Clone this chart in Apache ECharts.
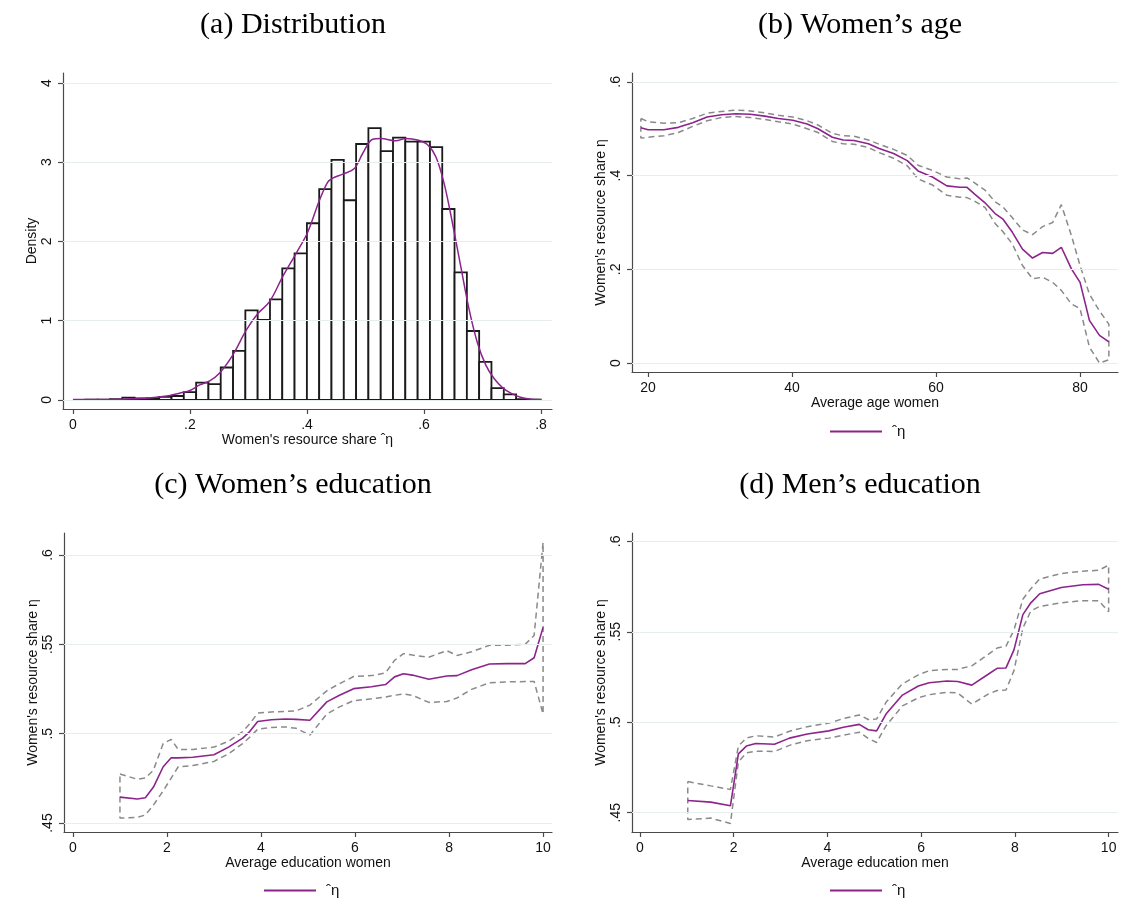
<!DOCTYPE html>
<html>
<head>
<meta charset="utf-8">
<script src="https://cdn.jsdelivr.net/npm/echarts@6/dist/echarts.min.js"></script>
<style>
html,body{margin:0;padding:0;background:#fff;}
#chart{width:1122px;height:909px;}
</style>
</head>
<body>
<div id="chart"></div>
<script>
// ---------- (a) Distribution ----------
const binWidth = 0.02103;
const binCenter = [0.0318,0.0528,0.0739,0.0949,0.1159,0.1370,0.1580,0.1790,0.2000,0.2211,0.2421,0.2631,0.2842,0.3052,0.3262,0.3473,0.3683,0.3893,0.4104,0.4314,0.4524,0.4735,0.4945,0.5155,0.5366,0.5576,0.5786,0.5997,0.6207,0.6417,0.6628,0.6838,0.7048,0.7259,0.7469,0.7679,0.7890];
const binHeight = [0.004,0.004,0.01,0.03,0.02,0.02,0.04,0.05,0.10,0.22,0.20,0.41,0.62,1.13,1.01,1.27,1.66,1.85,2.23,2.66,3.03,2.52,3.23,3.43,3.14,3.31,3.26,3.26,3.19,2.41,1.61,0.87,0.48,0.15,0.07,0.01,0.005];
const kdeX = [0,0.06,0.10,0.13,0.16,0.185,0.2,0.2166,0.2337,0.2507,0.2734,0.2962,0.3161,0.336,0.3587,0.3815,0.4014,0.4213,0.4355,0.4441,0.4611,0.481,0.4952,0.5122,0.5265,0.5521,0.5692,0.589,0.6061,0.6203,0.6345,0.6487,0.663,0.6772,0.6914,0.7057,0.7198,0.735,0.75,0.765,0.78,0.8];
const kdeY = [0.005,0.006,0.015,0.025,0.05,0.09,0.12,0.19,0.24,0.34,0.57,0.88,1.09,1.24,1.56,1.85,2.12,2.52,2.75,2.80,2.85,2.92,3.11,3.29,3.30,3.27,3.30,3.28,3.22,3.07,2.73,2.23,1.68,1.14,0.72,0.44,0.27,0.15,0.08,0.035,0.012,0.004];
const aXTicks = [0,0.2,0.4,0.6,0.8];
const aYTicks = [0,1,2,3,4];

// ---------- (b) Women's age ----------
const ageX = [19,20,22.2,24.2,26.2,28.2,30.2,32.2,34.2,36.2,38.1,40.1,42.1,43.6,45.6,47.1,48.6,50.6,52.1,54.1,56.0,57.5,59.5,61.5,63.3,64.3,65.4,66.8,68.2,69.3,70.6,72.0,73.4,74.8,76.2,77.4,78.8,80.0,81.3,82.7,84.0];
const ageMid = [0.502,0.498,0.498,0.503,0.513,0.525,0.530,0.532,0.531,0.527,0.522,0.518,0.510,0.500,0.482,0.476,0.475,0.468,0.458,0.447,0.432,0.410,0.397,0.378,0.375,0.375,0.360,0.342,0.319,0.307,0.279,0.243,0.224,0.236,0.234,0.247,0.201,0.172,0.091,0.059,0.045];
const ageUp = [0.522,0.515,0.512,0.513,0.522,0.533,0.537,0.540,0.538,0.534,0.529,0.525,0.517,0.508,0.490,0.485,0.484,0.476,0.467,0.456,0.443,0.422,0.411,0.397,0.393,0.395,0.384,0.369,0.344,0.333,0.310,0.284,0.274,0.291,0.300,0.338,0.272,0.208,0.147,0.111,0.083];
const ageLo = [0.480,0.482,0.485,0.492,0.505,0.517,0.524,0.526,0.524,0.520,0.515,0.510,0.500,0.492,0.473,0.468,0.467,0.460,0.449,0.437,0.421,0.393,0.380,0.358,0.354,0.353,0.345,0.332,0.298,0.280,0.254,0.208,0.180,0.183,0.172,0.155,0.126,0.116,0.034,0.000,0.007];
const bXTicks = [20,40,60,80];
const bYTicks = [0,0.2,0.4,0.6];

// ---------- (c) Women's education ----------
const eduWX = [1.00,1.37,1.54,1.71,1.92,2.09,2.24,2.55,3.00,3.31,3.61,3.76,3.93,4.22,4.52,4.75,5.04,5.40,5.67,5.97,6.35,6.65,6.84,7.03,7.22,7.57,7.95,8.17,8.48,8.86,9.24,9.62,9.81,10.0];
const eduWMid = [0.4645,0.4635,0.4642,0.4700,0.4815,0.4865,0.4865,0.4868,0.4882,0.4925,0.4975,0.5012,0.5068,0.5078,0.5082,0.5080,0.5075,0.5178,0.5215,0.5252,0.5263,0.5275,0.5318,0.5335,0.5328,0.5305,0.5323,0.5325,0.5358,0.5390,0.5392,0.5392,0.5425,0.5595];
const eduWUp = [0.4775,0.4745,0.4752,0.4795,0.4945,0.4968,0.4912,0.4912,0.4925,0.4958,0.5012,0.5055,0.5115,0.5122,0.5125,0.5128,0.5160,0.5240,0.5280,0.5320,0.5325,0.5340,0.5410,0.5448,0.5440,0.5428,0.5465,0.5438,0.5458,0.5495,0.5495,0.5500,0.5550,0.6070];
const eduWLo = [0.4528,0.4532,0.4545,0.4600,0.4680,0.4752,0.4815,0.4822,0.4845,0.4888,0.4945,0.4980,0.5025,0.5035,0.5038,0.5030,0.4992,0.5110,0.5150,0.5185,0.5195,0.5205,0.5215,0.5222,0.5215,0.5175,0.5180,0.5200,0.5248,0.5285,0.5290,0.5292,0.5292,0.5110];

// ---------- (d) Men's education ----------
const eduMX = [1.02,1.51,1.93,2.10,2.27,2.47,2.87,3.19,3.57,4.03,4.34,4.68,4.87,5.05,5.25,5.60,5.94,6.17,6.55,6.78,7.08,7.43,7.62,7.81,7.98,8.17,8.34,8.53,8.99,9.45,9.79,10.0];
const eduMMid = [0.4567,0.4558,0.4538,0.4825,0.4868,0.4882,0.4878,0.4912,0.4935,0.4952,0.4972,0.4988,0.4958,0.4952,0.5045,0.5150,0.5200,0.5218,0.5228,0.5225,0.5205,0.5265,0.5298,0.5300,0.5400,0.5595,0.5660,0.5710,0.5745,0.5760,0.5762,0.5735];
const eduMUp = [0.4672,0.4648,0.4628,0.4868,0.4912,0.4925,0.4918,0.4950,0.4975,0.4995,0.5020,0.5040,0.5015,0.5018,0.5110,0.5212,0.5262,0.5285,0.5292,0.5292,0.5312,0.5375,0.5410,0.5420,0.5510,0.5680,0.5738,0.5792,0.5822,0.5835,0.5840,0.5868];
const eduMLo = [0.4462,0.4470,0.4440,0.4780,0.4830,0.4840,0.4838,0.4872,0.4898,0.4912,0.4928,0.4945,0.4910,0.4888,0.4980,0.5090,0.5135,0.5152,0.5165,0.5162,0.5100,0.5155,0.5175,0.5178,0.5285,0.5520,0.5615,0.5640,0.5660,0.5672,0.5672,0.5610];
const eduXTicks = [0,2,4,6,8,10];
const eduYTicks = [0.45,0.5,0.55,0.6];

// ---------- styling ----------
const PURPLE = '#8c248c';
const DASH = '#8a8a8a';
const GRIDC = '#e6eef0';
const AXC = '#4a4a4a';
const TXT = {color:'#111', fontFamily:'Liberation Sans', fontSize:14};
const ETA_HAT = '\u02C6\u03B7';

function fmt(v){ if (v === 0) return '0'; const s = String(+Number(v).toFixed(3)); return s.replace(/^0\./,'.'); }
function pairs(xs, ys){ return xs.map((x,i)=>[x, ys[i]]); }
function ciLoop(xs, up, lo){
  const a = xs.map((x,i)=>[x, up[i]]);
  const b = xs.map((x,i)=>[x, lo[i]]).reverse();
  return a.concat(b, [[xs[0], up[0]]]);
}
function xAx(gi, min, max, ticks, name){
  return {type:'value', gridIndex:gi, min, max, name, nameLocation:'middle', nameGap:24,
    nameTextStyle:Object.assign({}, TXT),
    axisLine:{show:true, onZero:false, lineStyle:{color:AXC, width:1.2}},
    axisTick:{show:true, customValues:ticks, length:5, lineStyle:{color:AXC, width:1.2}},
    axisLabel:{customValues:ticks, formatter:fmt, margin:9, color:TXT.color, fontFamily:TXT.fontFamily, fontSize:TXT.fontSize},
    splitLine:{show:false}};
}
function yAx(gi, min, max, ticks, name, gap){
  return {type:'value', gridIndex:gi, min, max, name, nameLocation:'middle', nameGap:gap, nameRotate:90,
    nameTextStyle:Object.assign({}, TXT),
    axisLine:{show:true, onZero:false, lineStyle:{color:AXC, width:1.2}},
    axisTick:{show:true, customValues:ticks, length:5, lineStyle:{color:AXC, width:1.2}},
    axisLabel:{customValues:ticks, formatter:fmt, rotate:90, margin:9, color:TXT.color, fontFamily:TXT.fontFamily, fontSize:TXT.fontSize},
    splitLine:{show:false}};
}
function gridLines(gi, xmin, ymin, ticks){
  return {type:'line', xAxisIndex:gi, yAxisIndex:gi, data:[[xmin, ymin]], showSymbol:false, symbol:'none', silent:true, z:0,
    lineStyle:{opacity:0},
    markLine:{silent:true, symbol:'none', animation:false, label:{show:false},
      lineStyle:{color:GRIDC, width:1.2, type:'solid'}, emphasis:{disabled:true},
      data:ticks.map(v=>({yAxis:v}))}};
}
function ciSeries(gi, xs, up, lo){
  return {type:'line', xAxisIndex:gi, yAxisIndex:gi, data:ciLoop(xs, up, lo), showSymbol:false, symbol:'none', z:2,
    lineStyle:{color:DASH, width:1.5, type:[6,4]}, silent:true};
}
function midSeries(gi, xs, ys){
  return {name:ETA_HAT, type:'line', xAxisIndex:gi, yAxisIndex:gi, data:pairs(xs, ys), showSymbol:false, symbol:'none', z:3,
    lineStyle:{color:PURPLE, width:1.6}, itemStyle:{color:PURPLE}, silent:true};
}
function titleCfg(text, cx, top){
  return {text, left:cx, top, textAlign:'center', textStyle:{fontFamily:'Liberation Serif', fontSize:30, fontWeight:'normal', color:'#000'}};
}
function legendCfg(left, top){
  return {data:[ETA_HAT], left, top, padding:0, icon:'rect', itemWidth:52, itemHeight:2, selectedMode:false,
    textStyle:{color:'#111', fontFamily:'Liberation Sans', fontSize:15, padding:[0,0,0,5]}};
}

const chart = echarts.init(document.getElementById('chart'), null, {renderer:'canvas'});
const option = {
  animation:false,
  backgroundColor:'#fff',
  title:[
    titleCfg('(a) Distribution', 288, 5),
    titleCfg('(b) Women\u2019s age', 855, 5),
    titleCfg('(c) Women\u2019s education', 288, 465),
    titleCfg('(d) Men\u2019s education', 855, 465)
  ],
  legend:[ legendCfg(830, 424), legendCfg(264, 883), legendCfg(830, 883) ],
  grid:[
    {left:63, top:73, width:489, height:336},
    {left:632, top:73, width:486, height:299},
    {left:64, top:533, width:488, height:299},
    {left:632, top:533, width:486, height:299}
  ],
  xAxis:[
    xAx(0, -0.017, 0.8188, aXTicks, "Women's resource share " + ETA_HAT),
    xAx(1, 17.77, 85.27, bXTicks, 'Average age women'),
    xAx(2, -0.19, 10.19, eduXTicks, 'Average education women'),
    xAx(3, -0.17, 10.2, eduXTicks, 'Average education men')
  ],
  yAxis:[
    yAx(0, -0.114, 4.126, aYTicks, 'Density', 24),
    yAx(1, -0.0192, 0.619, bYTicks, "Women's resource share \u03B7", 24),
    yAx(2, 0.445, 0.6123, eduYTicks, "Women's resource share \u03B7", 24),
    yAx(3, 0.4393, 0.6046, eduYTicks, "Women's resource share \u03B7", 24)
  ],
  series:[
    gridLines(0, -0.017, -0.114, aYTicks),
    {type:'custom', xAxisIndex:0, yAxisIndex:0, z:2, silent:true,
     data:pairs(binCenter, binHeight), encode:{x:0, y:1},
     renderItem:function(params, api){
       const c = api.value(0), h = api.value(1);
       const p0 = api.coord([c - binWidth/2, 0]);
       const p1 = api.coord([c + binWidth/2, h]);
       return {type:'rect', shape:{x:p0[0], y:p1[1], width:p1[0]-p0[0], height:p0[1]-p1[1]},
         style:{fill:'#fff', stroke:'#1a1a1a', lineWidth:1.8}};
     }},
    {type:'line', xAxisIndex:0, yAxisIndex:0, data:pairs(kdeX, kdeY), smooth:0.35, showSymbol:false, symbol:'none', z:3,
     lineStyle:{color:PURPLE, width:1.5}, silent:true},

    gridLines(1, 17.77, -0.0192, bYTicks),
    ciSeries(1, ageX, ageUp, ageLo),
    midSeries(1, ageX, ageMid),

    gridLines(2, -0.19, 0.445, eduYTicks),
    ciSeries(2, eduWX, eduWUp, eduWLo),
    midSeries(2, eduWX, eduWMid),

    gridLines(3, -0.17, 0.4393, eduYTicks),
    ciSeries(3, eduMX, eduMUp, eduMLo),
    midSeries(3, eduMX, eduMMid)
  ]
};
chart.setOption(option);
</script>
</body>
</html>
